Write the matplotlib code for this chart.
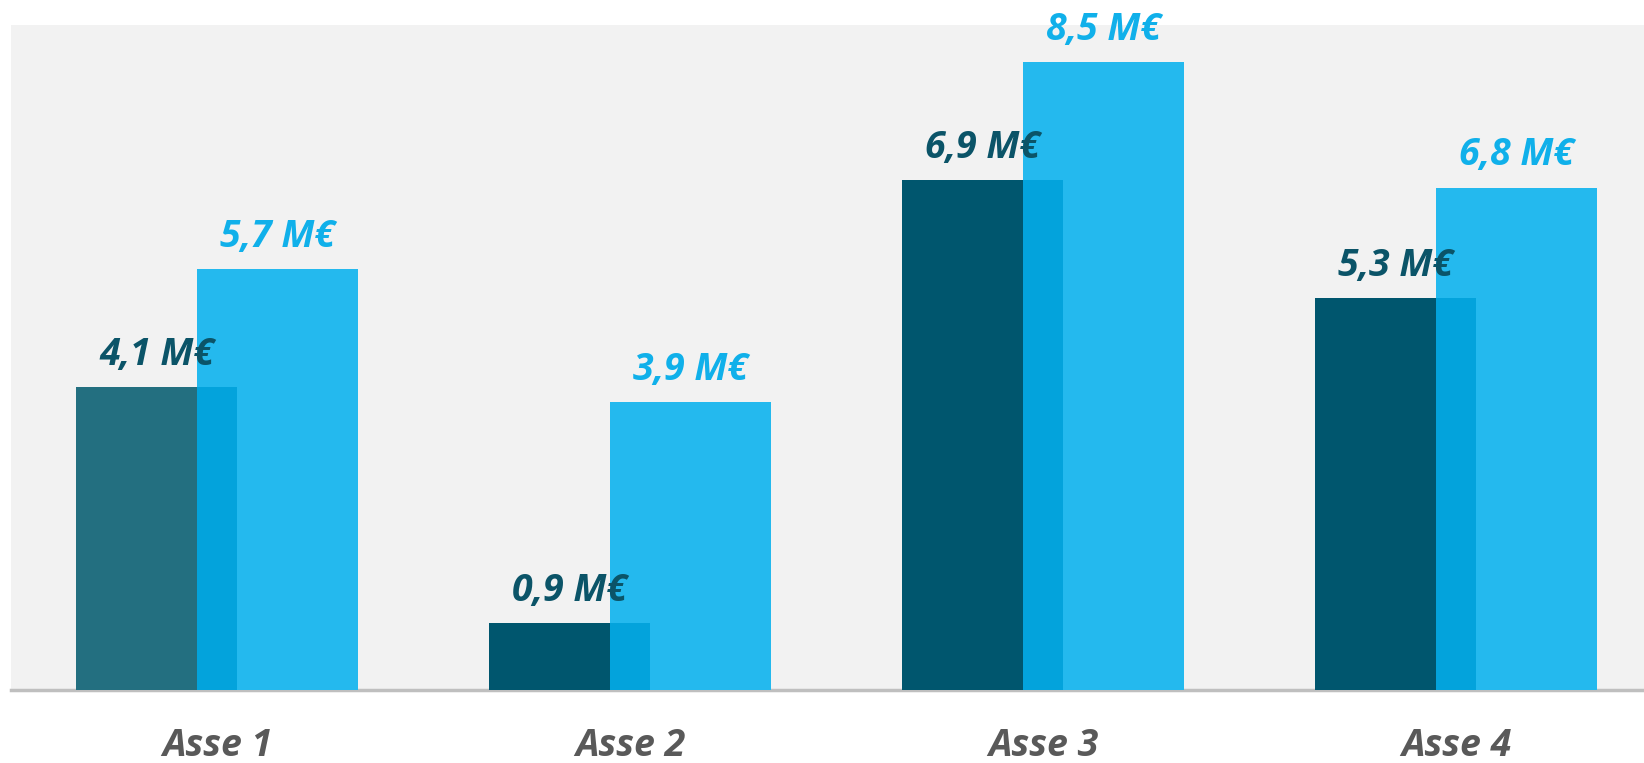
import numpy as np
import matplotlib
matplotlib.use("Agg")
import matplotlib.pyplot as plt

# data
categories = ["Asse 1", "Asse 2", "Asse 3", "Asse 4"]
serie_a = [4.1, 0.9, 6.9, 5.3]   # dark bars
serie_b = [5.7, 3.9, 8.5, 6.8]   # light bars
labels_a = ["4,1 M€", "0,9 M€", "6,9 M€", "5,3 M€"]
labels_b = ["5,7 M€", "3,9 M€", "8,5 M€", "6,8 M€"]

dark = ["#236f80", "#00566e", "#00566e", "#00566e"]
light = "#24b9ee"
overlap = "#03a3dc"
txt_dark = "#0b5468"
txt_light = "#10b0ea"

plt.rcParams['font.family'] = ['Open Sans', 'DejaVu Sans']

fig = plt.figure(figsize=(16.44, 7.63), dpi=100)
ax = fig.add_axes([0.0064, 0.096, 0.9936, 0.871])
ax.set_facecolor("#f2f2f2")

x = np.arange(len(categories))
w = 0.391
off = 0.1466

ax.bar(x - off, serie_a, width=w, color=dark, zorder=2)
ax.bar(x + off, serie_b, width=w, color=light, zorder=3)
# part where the two bars overlap
lo = (x + off - w / 2)
hi = (x - off + w / 2)
ax.bar((lo + hi) / 2, np.minimum(serie_a, serie_b), width=hi - lo,
       color=overlap, zorder=4)

fkw = dict(fontsize=27, fontweight='bold', fontstyle='italic',
           ha='center', va='baseline', textcoords='offset points')
for i in range(len(categories)):
    ax.annotate(labels_a[i], (x[i] - off, serie_a[i]), xytext=(0, 16),
                color=txt_dark, zorder=6, **fkw)
    ax.annotate(labels_b[i], (x[i] + off, serie_b[i]), xytext=(0, 16),
                color=txt_light, zorder=6, **fkw)
    ax.annotate(categories[i], (x[i], 0), xytext=(0, -48),
                color="#595959", annotation_clip=False, **fkw)

ax.set_xlim(-0.5, 3.455)
ax.set_ylim(0, 9)
ax.set_xticks([])
ax.set_yticks([])
for s in ["top", "right", "left"]:
    ax.spines[s].set_visible(False)
ax.spines["bottom"].set_color("#bfbfbf")
ax.spines["bottom"].set_linewidth(2.5)
ax.spines["bottom"].set_zorder(1)

fig.savefig("out.png", dpi=100)
